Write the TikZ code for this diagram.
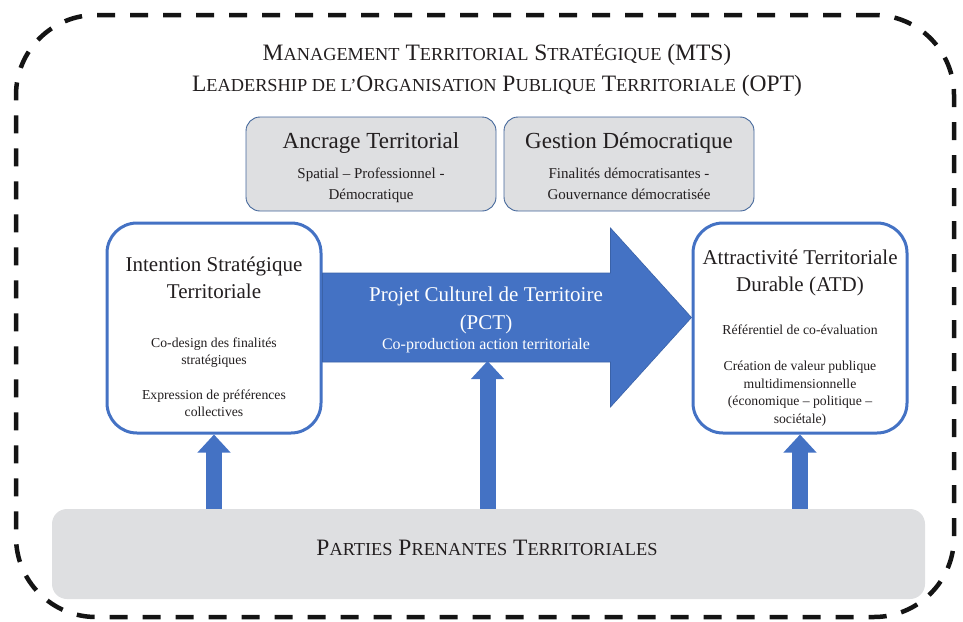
\documentclass[tikz,border=0pt]{standalone}
\usepackage{fontspec}
\setmainfont{Liberation Serif}
\usetikzlibrary{arrows.meta,positioning,calc}
\definecolor{pctblue}{HTML}{4472C4}
\definecolor{pctedge}{HTML}{3A62A8}
\definecolor{panelgray}{HTML}{DEDFE1}
\definecolor{paneledge}{HTML}{44679B}
\definecolor{inkgray}{HTML}{231F20}
\makeatletter
\newcommand\petitcap[1]{{\fontsize{\fpeval{0.78*\f@size}}{\f@baselineskip}\selectfont\MakeUppercase{#1}}}
\makeatother
\tikzset{
  >=Stealth,
  every node/.append style={text=inkgray},
}
\tikzset{
  txt/.style={inner sep=0pt, align=center},
  uparr/.style={-{Triangle[width=32pt,length=18pt]}, line width=16pt, draw=pctblue}
}

\begin{document}
\begin{tikzpicture}[x=1pt, y=-1pt,
  mtsframe/.style={draw=black!92, line width=4.5pt, dash pattern=on 18pt off 15pt, rounded corners=80pt, minimum width=938pt, minimum height=602pt},
  panel/.style={draw=paneledge, line width=0.9pt, fill=panelgray, rounded corners=14pt, minimum width=250pt, minimum height=94pt},
  goal/.style={draw=pctblue, line width=3pt, fill=white, rounded corners=30pt, minimum width=214pt, minimum height=210pt},
  stake/.style={fill=panelgray, rounded corners=15pt, minimum width=873pt, minimum height=90pt},
  bigarr/.style={fill=pctblue, draw=pctedge, line width=0.6pt},
  headfont/.style={font=\fontsize{23.5}{31}\selectfont},
  panelfont/.style={font=\fontsize{23}{28}\selectfont},
  panelsub/.style={font=\fontsize{15}{21}\selectfont},
  goalfont/.style={font=\fontsize{21}{27.5}\selectfont},
  goalsub/.style={font=\fontsize{13.7}{17.5}\selectfont}
]
\useasboundingbox (0,0) rectangle (963,621);

% Outer dashed frame (MTS / OPT)
\node[mtsframe] (mts) at (485,316) {};
\node[txt, headfont] (mtstitle) at (497,70) {%
M\petitcap{anagement} T\petitcap{erritorial} S\petitcap{tratégique} (MTS)\\
L\petitcap{eadership de l’}O\petitcap{rganisation} P\petitcap{ublique} T\petitcap{erritoriale} (OPT)};

% Grey panels on top
\node[panel] (ancrage) at (371,164) {};
\node[panel] (gestion) at (629,164) {};
\node[txt, panelfont, below=16pt of ancrage.north] (ancragetitle) {Ancrage Territorial};
\node[txt, panelsub, below=51pt of ancrage.north] (ancragesub) {Spatial – Professionnel -\\Démocratique};
\node[txt, panelfont, below=16pt of gestion.north] (gestiontitle) {Gestion Démocratique};
\node[txt, panelsub, below=51pt of gestion.north] (gestionsub) {Finalités démocratisantes -\\Gouvernance démocratisée};

% Intention and ATD boxes
\node[goal] (intent) at (214,328) {};
\node[goal] (atd) at (800,328) {};
\node[txt, goalfont, below=35pt of intent.north] (intenttitle) {Intention Stratégique\\Territoriale};
\node[txt, goalsub, below=116pt of intent.north] (intentsub) {Co-design des finalités\\stratégiques\\[17pt]Expression de préférences\\collectives};
\node[txt, goalfont, below=28pt of atd.north] (atdtitle) {Attractivité Territoriale\\Durable (ATD)};
\node[txt, goalsub, below=103pt of atd.north] (atdsub) {Référentiel de co-évaluation\\[19pt]Création de valeur publique\\multidimensionnelle\\(économique – politique –\\sociétale)};

% Big arrow: Projet Culturel de Territoire
\coordinate (tail) at ($(intent.east)+(0,-10.5)$);
\coordinate (tip) at ($(atd.west)+(0,-10.5)$);
\draw[bigarr] ($(tail)+(0,-44.5)$) -- ($(tip)+(-81,-44.5)$) -- ($(tip)+(-81,-89.5)$) -- (tip)
  -- ($(tip)+(-81,89.5)$) -- ($(tip)+(-81,44.5)$) -- ($(tail)+(0,44.5)$) -- cycle;
\node[txt, goalfont, text=white, anchor=north] (pcttitle) at (486,287) {Projet Culturel de Territoire\\(PCT)};
\node[txt, font=\fontsize{16}{20}\selectfont, text=white, below=4.5pt of pcttitle] (pctsub) {Co-production action territoriale};
\coordinate (pctfoot) at ($(tail)+(165,43.5)$);

% Stakeholders and upward arrows
\node[stake] (parties) at (488.5,554) {};
\draw[uparr] (parties.north -| intent.south) -- (intent.south);
\draw[uparr] (parties.north -| pctfoot) -- (pctfoot);
\draw[uparr] (parties.north -| atd.south) -- (atd.south);
\node[txt, headfont, anchor=base] (partieslbl) at (487,555) {P\petitcap{arties} P\petitcap{renantes} T\petitcap{erritoriales}};

\end{tikzpicture}
\end{document}
